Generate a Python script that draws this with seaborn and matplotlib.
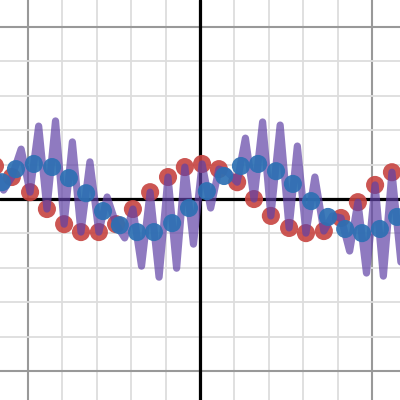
import matplotlib
matplotlib.use("Agg")
import matplotlib.pyplot as plt
import seaborn as sns
import pandas as pd
import numpy as np

# values (graph units, one minor grid step = 1)
red_x = [-5.96, -5.47, -4.94, -4.45, -3.95, -3.46, -2.94, -2.44, -1.95, -1.45, -0.93, -0.44,
         0.06, 0.55, 1.08, 1.57, 2.06, 2.59, 3.08, 3.60, 4.10, 4.59, 5.09, 5.58]
red_y = [0.96, 0.64, 0.20, -0.29, -0.73, -0.96, -0.96, -0.73, -0.29, 0.20, 0.64, 0.93,
         1.02, 0.87, 0.49, 0.00, -0.49, -0.84, -0.99, -0.93, -0.55, -0.09, 0.41, 0.78]

blue_x = [-5.76, -5.35, -4.83, -4.30, -3.81, -3.31, -2.82, -2.33, -1.83, -1.34, -0.81, -0.32,
          0.20, 0.70, 1.19, 1.69, 2.21, 2.70, 3.23, 3.72, 4.22, 4.71, 5.23, 5.73]
blue_y = [0.49, 0.87, 1.02, 0.93, 0.61, 0.17, -0.35, -0.76, -0.96, -0.96, -0.70, -0.26,
          0.23, 0.67, 0.96, 1.02, 0.81, 0.44, -0.06, -0.52, -0.87, -0.99, -0.87, -0.52]

# turning points of the purple curve
curve_x = [-6.21, -5.96, -5.71, -5.47, -5.20, -4.94, -4.69, -4.45, -4.20, -3.95, -3.71, -3.46,
           -3.20, -2.94, -2.70, -2.44, -2.19, -1.95, -1.70, -1.45, -1.19, -0.93, -0.68, -0.44,
           -0.19, 0.06, 0.31, 0.55, 0.81, 1.08, 1.32, 1.57, 1.82, 2.06, 2.33, 2.59,
           2.83, 3.08, 3.34, 3.60, 3.85, 4.10, 4.35, 4.59, 4.84, 5.09, 5.33, 5.58, 5.84]
curve_y = [-0.84, 0.96, 0.26, 0.64, 1.45, 0.20, 2.12, -0.29, 2.27, -0.73, 1.66, -0.96,
           1.08, -0.96, 0.06, -0.73, -1.13, -0.29, -1.95, 0.20, -2.27, 0.64, -2.01, 0.93,
           -1.31, 1.02, -0.26, 0.87, 0.78, 0.49, 1.77, 0.00, 2.24, -0.49, 2.15, -0.84,
           1.54, -0.99, 0.64, -0.93, -0.49, -0.55, -1.51, -0.09, -2.15, 0.41, -2.24, 0.78, -1.83]

red = pd.DataFrame({"x": red_x, "y": red_y})
blue = pd.DataFrame({"x": blue_x, "y": blue_y})
curve = pd.DataFrame({"x": curve_x, "y": curve_y})

sns.set_style("white")
fig = plt.figure(figsize=(4, 4), dpi=100)
ax = fig.add_axes([0, 0, 1, 1])

ax.set_xlim(-5.814, 5.814)
ax.set_ylim(-5.84, 5.785)

# grid
ax.set_xticks([-5, 0, 5])
ax.set_yticks([-5, 0, 5])
ax.set_xticks(np.arange(-5, 6, 1), minor=True)
ax.set_yticks(np.arange(-5, 6, 1), minor=True)
ax.grid(which="minor", color="#dddddd", linewidth=1.3, zorder=0)
ax.grid(which="major", color="#999999", linewidth=1.5, zorder=0)
ax.tick_params(which="both", length=0, labelbottom=False, labelleft=False)
for s in ax.spines.values():
    s.set_visible(False)
ax.axhline(0, color="black", linewidth=2.3, zorder=1)
ax.axvline(0, color="black", linewidth=2.3, zorder=1)

sns.scatterplot(data=red, x="x", y="y", color="#c74440", s=170, alpha=0.9,
                edgecolor="none", ax=ax, zorder=2)
sns.lineplot(data=curve, x="x", y="y", sort=False, color="#6042a6", alpha=0.7,
             linewidth=5.2, ax=ax, zorder=3, solid_joinstyle="round", solid_capstyle="round")
sns.scatterplot(data=blue, x="x", y="y", color="#2d70b3", s=170, alpha=0.92,
                edgecolor="none", ax=ax, zorder=4)

ax.set_xlabel("")
ax.set_ylabel("")
plt.savefig("out.png", dpi=100)
plt.close()
